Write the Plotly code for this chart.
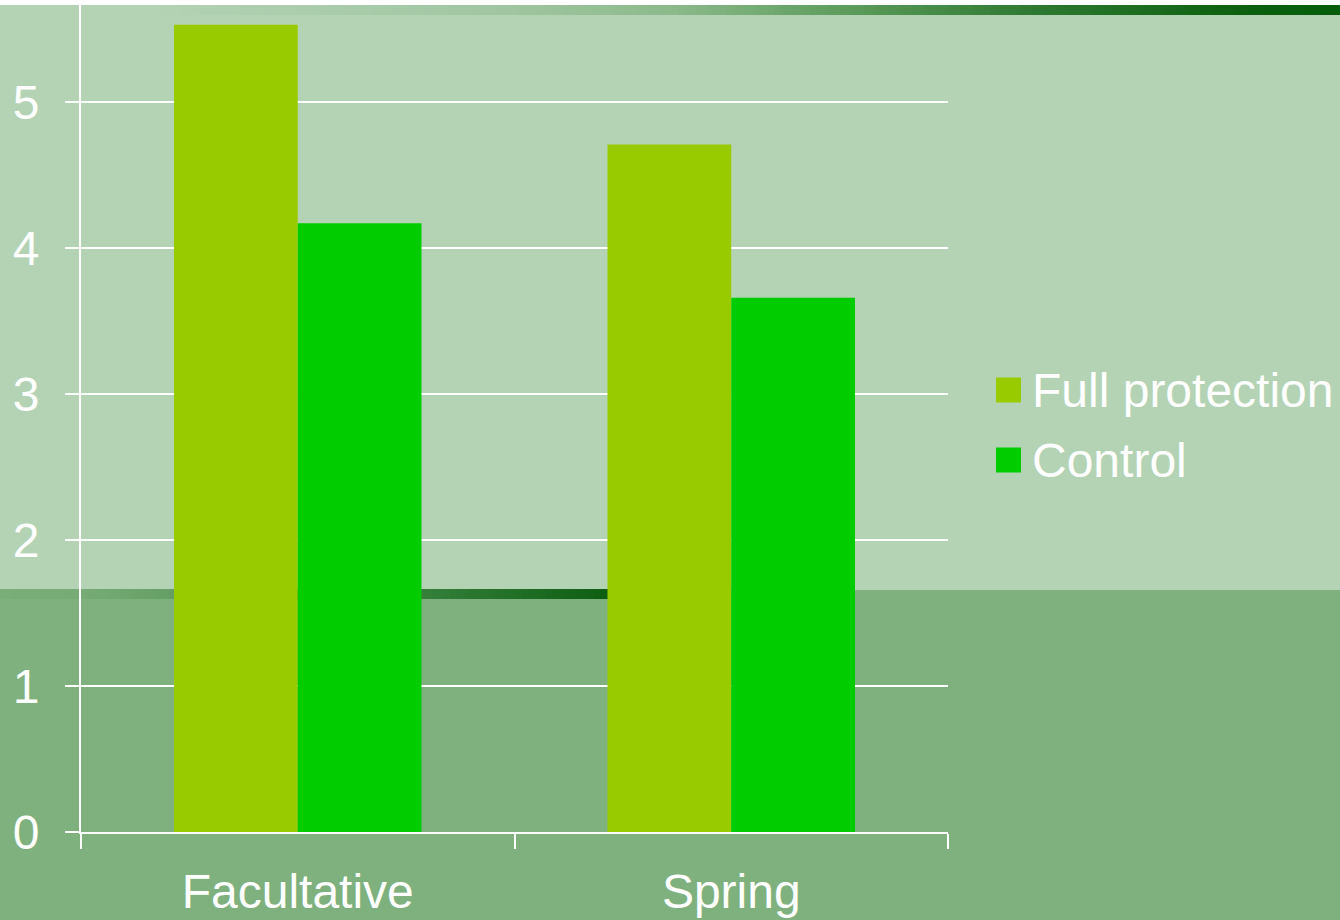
import plotly.graph_objects as go

# ---- data ----
categories = ["Facultative", "Spring"]
series_names = ["Full protection", "Control"]
full_protection = [5.53, 4.71]
control = [4.17, 3.66]
y_tick_values = [0, 1, 2, 3, 4, 5]

# ---- styling ----
W, H = 1340, 920
PLOT_L, PLOT_R, PLOT_T, PLOT_B = 81, 948, 0, 832
BAR_COLORS = ["#99cc00", "#00cc00"]
BG_LIGHT = "#b3d3b4"
BG_DARK = "#7eb17e"
FONT = "Liberation Sans, Arial, sans-serif"
FONT_SIZE = 48


def px_x(px):
    return (px - PLOT_L) / (PLOT_R - PLOT_L)


def px_y(py):
    return (PLOT_B - py) / (PLOT_B - PLOT_T)


def hex_rgb(h):
    h = h.lstrip("#")
    return tuple(int(h[i:i + 2], 16) for i in (0, 2, 4))


def ramp(stops, x):
    # piecewise-linear colour ramp; stops = [(pos, "#rrggbb"), ...]
    if x <= stops[0][0]:
        return stops[0][1]
    for (p0, c0), (p1, c1) in zip(stops, stops[1:]):
        if p0 <= x <= p1:
            t = (x - p0) / (p1 - p0)
            a, b = hex_rgb(c0), hex_rgb(c1)
            r = [round(a[i] + (b[i] - a[i]) * t) for i in range(3)]
            return "#%02x%02x%02x" % tuple(r)
    return stops[-1][1]


shapes = []


def rect(x0, y0, x1, y1, color):
    shapes.append(dict(type="rect", xref="paper", yref="paper",
                       x0=px_x(x0), x1=px_x(x1), y0=px_y(y1), y1=px_y(y0),
                       fillcolor=color, line=dict(width=0), layer="below"))


# page background bands
rect(0, 0, W, H, BG_LIGHT)
rect(0, 590, W, H, BG_DARK)
rect(0, 0, W, 5, "#ffffff")

# decorative gradient strips
top_stops = [(0, BG_LIGHT), (150, BG_LIGHT), (513, "#a0c5a0"), (670, "#8cba8b"),
             (855, "#5a9a5a"), (1025, "#307a33"), (1240, "#0c600f"), (1340, "#055e0b")]
step = 6
for x in range(0, W, step):
    rect(x, 5, x + step + 0.6, 15, ramp(top_stops, x + step / 2))

bottom_stops = [(0, "#7aae79"), (80, "#77ab75"), (422, "#357f3a"),
                (608, "#0e5e12"), (720, "#055e0b")]
for x in range(0, 720, step):
    rect(x, 589, x + step + 0.6, 599, ramp(bottom_stops, x + step / 2))

fig = go.Figure()
for name, vals, col in zip(series_names, [full_protection, control], BAR_COLORS):
    fig.add_trace(go.Bar(x=categories, y=vals, name=name,
                         marker=dict(color=col, line=dict(width=0)),
                         showlegend=False, hoverinfo="skip"))

# legend drawn as squares + text
annotations = []
legend_rows = [390, 460]
for name, col, cy in zip(series_names, BAR_COLORS, legend_rows):
    shapes.append(dict(type="rect", xref="paper", yref="paper",
                       x0=px_x(996), x1=px_x(1021),
                       y0=px_y(cy + 12.5), y1=px_y(cy - 12.5),
                       fillcolor=col, line=dict(width=0), layer="above"))
    annotations.append(dict(xref="paper", yref="paper", x=px_x(1030), y=px_y(cy),
                            xanchor="left", yanchor="middle", text=name,
                            showarrow=False,
                            font=dict(family=FONT, size=FONT_SIZE, color="white")))

fig.update_layout(
    width=W, height=H, autosize=False,
    margin=dict(l=PLOT_L, r=W - PLOT_R, t=PLOT_T, b=H - PLOT_B, pad=0),
    paper_bgcolor=BG_LIGHT, plot_bgcolor="rgba(0,0,0,0)",
    barmode="group", bargap=0.429, bargroupgap=0,
    font=dict(family=FONT, size=FONT_SIZE, color="white"),
    shapes=shapes, annotations=annotations,
    showlegend=False,
)
fig.update_xaxes(type="category", showline=True, linecolor="white", linewidth=2,
                 ticks="outside", tickson="boundaries", ticklen=15,
                 tickcolor="white", tickwidth=2, showgrid=False,
                 tickfont=dict(family=FONT, size=FONT_SIZE, color="white"),
                 ticklabelstandoff=16)
fig.update_yaxes(range=[0, 5.7], tickvals=y_tick_values, showline=True,
                 linecolor="white", linewidth=2, ticks="outside", ticklen=14,
                 tickcolor="white", tickwidth=2, showgrid=True,
                 gridcolor="white", gridwidth=2, zeroline=False,
                 tickfont=dict(family=FONT, size=FONT_SIZE, color="white"),
                 ticklabelstandoff=16)

fig.write_html("out.html", config={"displayModeBar": False})
